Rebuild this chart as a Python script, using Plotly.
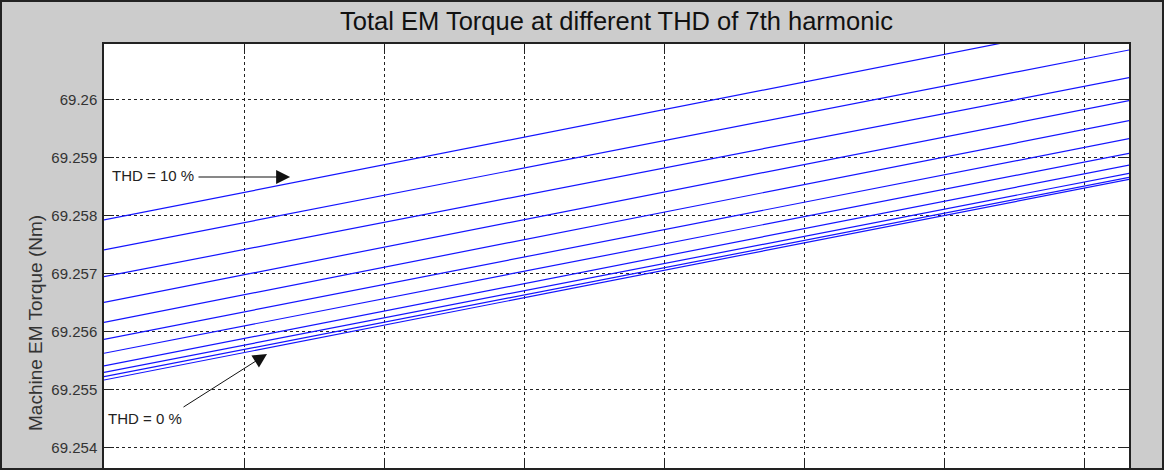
import plotly.graph_objects as go

# ---- data ----
thd_percent = [0, 1, 2, 3, 4, 5, 6, 7, 8, 9, 10]
x_points = [0.0, 7.32]
torque_start = [69.25516, 69.255217, 69.255293, 69.255402, 69.255621, 69.255862,
                69.256155, 69.2565, 69.256941, 69.257402, 69.257919]
torque_end = [69.258621, 69.258655, 69.258724, 69.258867, 69.259069, 69.259321,
              69.259631, 69.259976, 69.260372, 69.26085, 69.261402]
y_ticks = [69.254, 69.255, 69.256, 69.257, 69.258, 69.259, 69.26]
y_tick_text = ["69.254", "69.255", "69.256", "69.257", "69.258", "69.259", "69.26"]

W, H = 1164, 470
ML, MR, MT, MB = 104, 35, 44, 2
FONT = "Liberation Sans, Arial"

fig = go.Figure()
for thd, y0, y1 in zip(thd_percent, torque_start, torque_end):
    fig.add_trace(go.Scatter(
        x=x_points, y=[y0, y1], mode="lines",
        line=dict(color="rgb(20,20,255)", width=1.2),
        name=f"THD = {thd} %", showlegend=False, hoverinfo="skip"))

axis_common = dict(
    showline=True, linecolor="#222", linewidth=1.5, mirror="ticks",
    ticks="inside", ticklen=10, tickcolor="#222", tickwidth=1,
    showgrid=True, gridcolor="#222", gridwidth=1, griddash="3px,3px",
    zeroline=False,
)
fig.update_xaxes(range=[0, 7.319], tick0=0, dtick=1, showticklabels=False, **axis_common)
fig.update_yaxes(range=[69.253643, 69.260953], tickvals=y_ticks, ticktext=y_tick_text,
                 tickfont=dict(family=FONT, size=15, color="#333"),
                 ticklabelstandoff=2, **axis_common)

pw, ph = W - ML - MR, H - MT - MB
ann_font = dict(family=FONT, size=15, color="#222")
annotations = [
    dict(x=0.043, y=69.258678, xref="x", yref="y", text="THD = 10 %", showarrow=False,
         xanchor="left", yanchor="middle", font=ann_font),
    dict(x=1.329, y=69.25866, ax=0.664, ay=69.25866, xref="x", yref="y", axref="x", ayref="y",
         text="", showarrow=True, arrowhead=2, arrowsize=2.8, arrowwidth=1, arrowcolor="#111"),
    dict(x=0.014, y=69.254505, xref="x", yref="y", text="THD = 0 %", showarrow=False,
         xanchor="left", yanchor="middle", font=ann_font),
    dict(x=1.164, y=69.255609, ax=0.557, ay=69.254678, xref="x", yref="y", axref="x", ayref="y",
         text="", showarrow=True, arrowhead=2, arrowsize=2.8, arrowwidth=1, arrowcolor="#111"),
    dict(x=(35 - ML) / pw, y=(H - MB - 323) / ph, xref="paper", yref="paper",
         text="Machine EM Torque (Nm)", showarrow=False, textangle=-90,
         font=dict(family=FONT, size=19, color="#333"),
         xanchor="center", yanchor="middle"),
]

fig.update_layout(
    width=W, height=H,
    margin=dict(l=ML, r=MR, t=MT, b=MB, autoexpand=False),
    paper_bgcolor="#cccccc", plot_bgcolor="white",
    title=dict(text="Total EM Torque at different THD of 7th harmonic",
               x=(ML + pw / 2) / W, xanchor="center", y=1 - 21 / H, yanchor="middle",
               font=dict(family=FONT, size=25.5, color="#111")),
    annotations=annotations,
    shapes=[dict(type="rect", xref="paper", yref="paper",
                 x0=(1 - ML) / pw, x1=(W - 1 - ML) / pw,
                 y0=(H - MB - (H - 1)) / ph, y1=(H - MB - 1) / ph,
                 line=dict(color="#222", width=2), layer="above")],
)

fig.write_html("out.html", config={"displayModeBar": False},
               post_script="document.body.style.margin='0';document.body.style.overflow='hidden';")
